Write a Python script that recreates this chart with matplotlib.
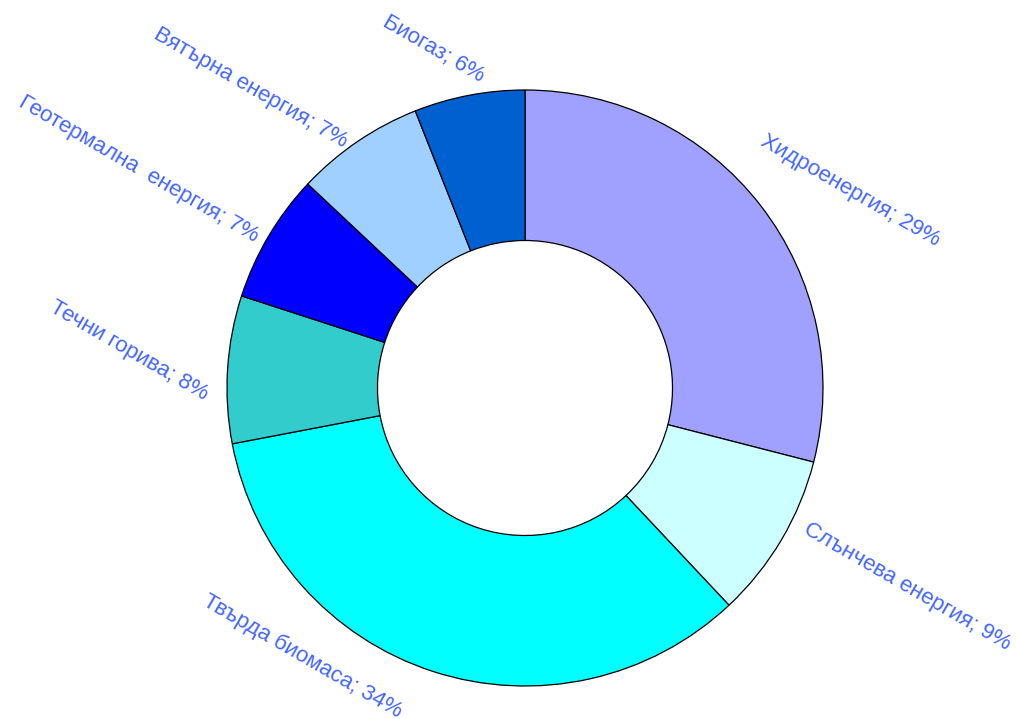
import numpy as np
import matplotlib
matplotlib.use("Agg")
import matplotlib.pyplot as plt

plt.rcParams['font.family'] = ['Liberation Sans', 'DejaVu Sans']

# Data
sources = ['Хидроенергия', 'Слънчева енергия', 'Твърда биомаса', 'Течни горива',
           'Геотермална  енергия', 'Вятърна енергия', 'Биогаз']
shares = [29, 9, 34, 8, 7, 7, 6]

# Styles
slice_colors = ['#a0a0ff', '#ccffff', '#00ffff', '#33cccc', '#0000ff', '#a0d0ff', '#0060d0']
label_r = [1.15, 1.05, 1.17, 1.07, 1.03, 1.02, 1.05]
label_shift = [-8.5, -4, 3, -5, -1.3, -2, 3]   # degrees
text_color = '#4466ff'

W, H = 1016, 719
cx, cy, R = 525, 388, 298

fig = plt.figure(figsize=(W / 100, H / 100), dpi=100)
ax = fig.add_axes([0, 0, 1, 1])

ax.pie(shares, colors=slice_colors, startangle=90, counterclock=False, radius=1,
       wedgeprops=dict(width=0.505, edgecolor='black', linewidth=0.9))

# pie() resets limits, so set them afterwards
ax.set_aspect('auto')
ax.set_xlim(-cx / R, (W - cx) / R)
ax.set_ylim(-(H - cy) / R, cy / R)
ax.axis('off')

total = sum(shares)
cum = 0
for i, (name, val) in enumerate(zip(sources, shares)):
    mid = (cum + val / 2) / total * 360
    cum += val
    ang = np.radians(mid + label_shift[i])
    x = label_r[i] * np.sin(ang)
    y = label_r[i] * np.cos(ang)
    ha = 'left' if np.sin(ang) > 0 else 'right'
    ax.text(x, y, f'{name}; {val}%', rotation=-30, rotation_mode='anchor',
            ha=ha, va='center', fontsize=16, color=text_color)

fig.savefig('out.png', dpi=100)
